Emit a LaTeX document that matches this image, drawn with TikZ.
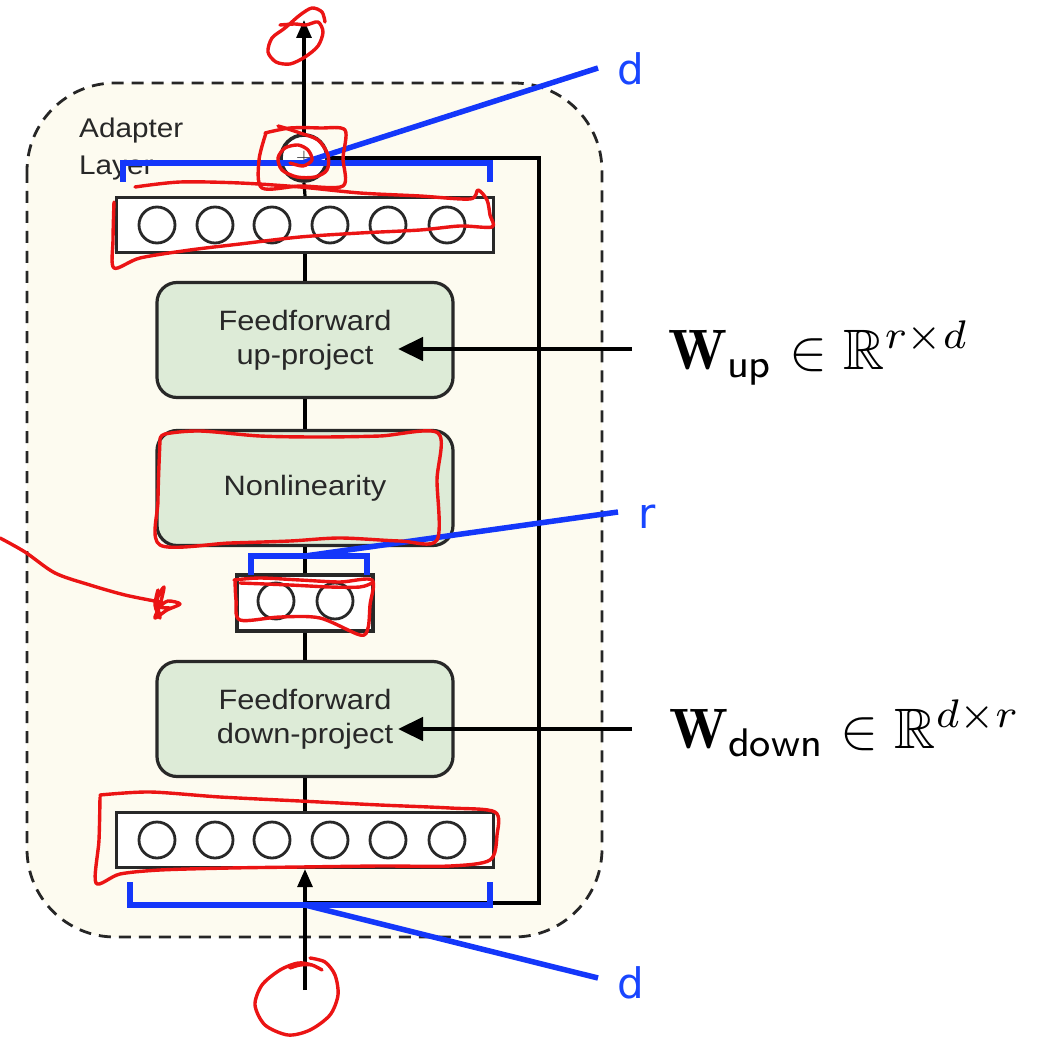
\documentclass[tikz,border=0pt]{standalone}
\usepackage{amsmath,amssymb}
\usepackage{graphicx}
\usepackage{fontspec}
\usetikzlibrary{arrows.meta,shapes.geometric}
\newfontfamily\diafont[FakeStretch=1.1]{Liberation Sans}
\newfontfamily\lblfont{DejaVu Sans}
\definecolor{cream}{RGB}{253,251,240}
\definecolor{boxgreen}{RGB}{221,235,215}
\definecolor{ink}{RGB}{40,40,40}
\definecolor{annblue}{RGB}{20,55,250}
\definecolor{lblblue}{RGB}{25,70,255}
\definecolor{annred}{RGB}{235,20,20}
\tikzset{
  flow/.style={draw=black, line width=3.2pt},
  layerbox/.style={draw=ink, line width=3.2pt, fill=white, minimum width=377pt, minimum height=55pt, inner sep=0pt},
  smallbox/.style={draw=ink, line width=3.2pt, fill=white, minimum width=136pt, minimum height=56pt, inner sep=0pt},
  neuron/.style={draw=ink, circle, line width=2.8pt, minimum size=36pt, inner sep=0pt},
  stage/.style={draw=ink, line width=3.2pt, fill=boxgreen, rounded corners=20pt, minimum width=296pt, minimum height=115pt, align=center, text=ink, font=\diafont\fontsize{28}{34}\selectfont},
  bluebr/.style={draw=annblue, line width=5.5pt},
  bluelbl/.style={text=lblblue, font=\lblfont\fontsize{42}{46}\selectfont, inner sep=0pt},
  redmark/.style={draw=annred, line width=3.4pt, line cap=round, line join=round},
  warrow/.style={draw=black, line width=4.5pt, -{Triangle[length=25pt, width=23pt]}},
  mathlbl/.style={anchor=base west, inner sep=0pt}
}
\begin{document}
\begin{tikzpicture}[x=1pt, y=-1pt]
\useasboundingbox (0,0) rectangle (1048,1040);
% adapter frame
\draw[draw=black!85, fill=cream, line width=2.8pt, dash pattern=on 12pt off 8pt, rounded corners=88pt] (27,83) rectangle (602,937);
\node[anchor=north west, align=left, text=ink, font=\diafont\fontsize{27}{37}\selectfont, inner sep=0pt] (title) at (79,118) {Adapter\\Layer};

% nodes
\node[draw=ink, circle, line width=3.6pt, fill=white, minimum size=46pt, inner sep=0pt, font=\fontsize{22}{22}\selectfont, text=ink] (plus) at (304,158) {+};
\node[layerbox] (top) at (305,225) {};
\foreach \i/\x in {1/157,2/215,3/272,4/330,5/388,6/447}{\node[neuron] (t\i) at (\x,225) {};}
\node[stage] (ffup) at (305,340) {Feedforward\\up-project};
\node[stage] (nonlin) at (305,488) {Nonlinearity};
\node[smallbox] (mid) at (305,603) {};
\node[neuron] (m1) at (276,601) {};
\node[neuron] (m2) at (335,601) {};
\node[stage] (ffdown) at (305,719) {Feedforward\\down-project};
\node[layerbox] (bot) at (305,840) {};
\foreach \i/\x in {1/157,2/215,3/272,4/330,5/388,6/447}{\node[neuron] (b\i) at (\x,840) {};}

\coordinate (out) at (304,20);
\coordinate (in) at (305,990);
\coordinate (skipL) at (305,903);
\coordinate (skipR) at (539,903);

% main flow
\draw[flow, -{Triangle[length=18pt, width=15pt]}] (plus.north) -- (out);
\draw[flow] (top.north) -- (plus.south);
\draw[flow] (ffup.north) -- (top.south);
\draw[flow] (nonlin.north) -- (ffup.south);
\draw[flow] (mid.north) -- (nonlin.south);
\draw[flow] (ffdown.north) -- (mid.south);
\draw[flow] (bot.north) -- (ffdown.south);
\draw[flow, -{Triangle[length=18pt, width=15pt]}] (in) -- (bot.south);
\draw[flow] (skipL) -- (skipR) |- (plus.east);

% weight arrows and labels
\coordinate (upsrc) at (632,349);
\coordinate (uptip) at (398,349);
\coordinate (dnsrc) at (632,729);
\coordinate (dntip) at (398,729);
\draw[warrow] (upsrc) -- (uptip);
\draw[warrow] (dnsrc) -- (dntip);
\node[mathlbl] (wup) at (668,369) {\scalebox{5.7}{$\mathbf{W}_{\mathsf{up}} \in \mathbb{R}^{r\times d}$}};
\node[mathlbl] (wdown) at (669,748) {\scalebox{5.7}{$\mathbf{W}_{\mathsf{down}} \in \mathbb{R}^{d\times r}$}};

% blue brackets
\node[bluelbl, anchor=base west] (dtop) at (617,85) {d};
\node[bluelbl, anchor=base west] (rlab) at (638,528) {r};
\node[bluelbl, anchor=base west] (dbot) at (617,998) {d};
\coordinate (tb) at (305,162);
\coordinate (mb) at (305,556);
\coordinate (bb) at (305,905);
\coordinate (tbend) at (598,68);
\coordinate (mbend) at (618,512);
\coordinate (bbend) at (598,978);
\draw[bluebr] (123,182) -- (123,163) -- (490,163) -- (490,182);
\draw[bluebr] (tb) -- (tbend);
\draw[bluebr] (251,575) -- (251,556) -- (367,556) -- (367,575);
\draw[bluebr] (mb) -- (mbend);
\draw[bluebr] (130,882) -- (130,905) -- (490,905) -- (490,882);
\draw[bluebr] (bb) -- (bbend);

% red annotations
\draw[redmark] plot[smooth] coordinates {(280,25) (295,24) (306,25) (318,22) (323,32) (318,46) (305,57) (290,64) (276,62) (268,52) (272,38) (285,28) (300,15) (312,8) (322,12) (325,22)};
\draw[redmark] plot[smooth] coordinates {(265,133) (290,128) (320,128) (345,130) (343,158) (343,186) (300,186) (262,188) (259,160) (266,133)};
\draw[redmark] plot[smooth] coordinates {(278,126) (285,128) (300,133) (318,140) (328,155) (327,170) (315,177) (297,177) (282,170) (278,158) (285,148) (298,145) (308,150) (312,160) (303,166) (290,163)};
\draw[redmark] plot[smooth] coordinates {(135,187) (180,182) (240,183) (300,187) (360,193) (420,196) (470,199) (478,190) (487,200) (490,215) (492,227) (460,226) (420,230) (360,233) (300,237) (240,244) (190,250) (140,258) (114,268) (113,240) (114,202)};
\draw[redmark] plot[smooth] coordinates {(160,440) (165,434) (200,431) (260,436) (320,437) (380,436) (438,433) (437,480) (437,540) (400,541) (340,538) (290,541) (230,543) (160,545) (158,500) (160,440)};
\draw[redmark] plot[smooth] coordinates {(0,538) (25,552) (55,573) (90,585) (125,595) (160,602)};
\draw[redmark] plot[smooth] coordinates {(158,590) (155,605) (160,618) (157,600) (164,587) (160,605) (155,618) (167,610) (180,604) (168,601) (160,607) (172,608)};
\draw[redmark] plot[smooth] coordinates {(234,580) (260,578) (300,580) (340,582) (372,580) (370,605) (368,628) (360,635) (320,618) (280,617) (240,620) (236,600) (235,580)};
\draw[redmark] plot[smooth] coordinates {(240,583) (290,585) (330,587) (360,587) (372,583)};
\draw[redmark] plot[smooth] coordinates {(100,795) (150,792) (220,797) (300,801) (380,805) (450,808) (495,812) (497,835) (490,860) (450,866) (380,866) (300,867) (230,868) (160,870) (120,874) (96,883) (99,840) (100,797)};
\draw[redmark] plot[smooth] coordinates {(290,968) (300,965) (312,965) (322,970) (312,965) (298,963) (280,970) (262,985) (255,1005) (265,1025) (288,1035) (310,1030) (330,1015) (338,995) (335,975) (325,962) (310,958)};
\end{tikzpicture}
\end{document}
